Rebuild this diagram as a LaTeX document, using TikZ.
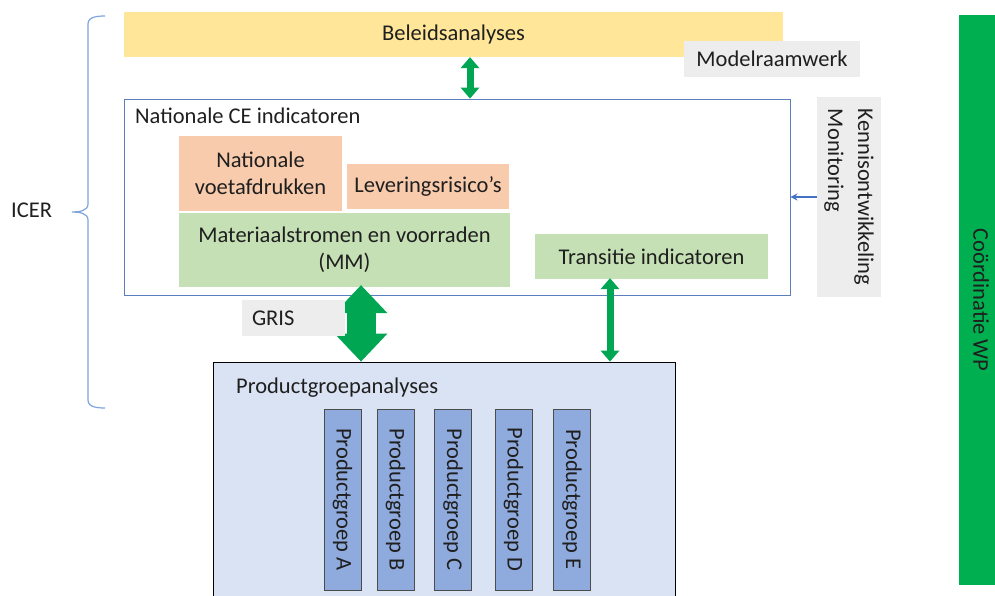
\documentclass[tikz,border=0pt]{standalone}
\usepackage{fontspec}
\setmainfont{Carlito}
\usetikzlibrary{arrows.meta,positioning}

\definecolor{beleidgeel}{HTML}{FFE699}
\definecolor{kaderblauw}{HTML}{5B7EBD}
\definecolor{zalm}{HTML}{F8CBAD}
\definecolor{lichtgroen}{HTML}{C5E0B4}
\definecolor{lichtgrijs}{HTML}{EDEDED}
\definecolor{pgablauw}{HTML}{DAE3F3}
\definecolor{pgblauw}{HTML}{8FAADC}
\definecolor{wpgroen}{HTML}{00B050}
\definecolor{pijlgroen}{HTML}{00A651}
\definecolor{accolade}{HTML}{7FA3DB}
\definecolor{pijlblauw}{HTML}{4472C4}

\begin{document}
\begin{tikzpicture}[
    x=1pt, y=-1pt,
    every node/.style={font=\fontsize{22.5}{27}\selectfont, text=black!88},
    blok/.style={inner sep=0pt, align=center},
    pgblok/.style={blok, draw=black!70, line width=0.9pt, fill=pgblauw,
      rotate=-90, minimum width=181, minimum height=37},
    titel/.style={anchor=base west, inner sep=0pt},
    groenpijl/.style={draw=pijlgroen, line width=7pt,
      arrows={Triangle[width=19pt,length=11pt,line width=0pt]-Triangle[width=19pt,length=11pt,line width=0pt]}},
    dikkepijl/.style={draw=pijlgroen, line width=29pt,
      arrows={Triangle[width=53pt,length=28pt,line width=0pt]-Triangle[width=53pt,length=28pt,line width=0pt]}},
    blauwpijl/.style={draw=pijlblauw, line width=1.8pt, -{Stealth[length=7pt,width=7pt]}}
  ]
    \useasboundingbox (0,0) rectangle (995,596);

    % bovenste laag
    \node[blok, fill=beleidgeel, minimum width=659, minimum height=45] (beleid) at (453.5,34.5) {Beleidsanalyses};
    \node[blok, fill=lichtgrijs, minimum width=176, minimum height=36] (model) at (772,59) {Modelraamwerk};

    % nationale indicatoren
    \node[blok, draw=kaderblauw, line width=0.9pt, minimum width=666, minimum height=196] (nat) at (457,197) {};
    \node[titel] (nattitel) at (135,124) {Nationale CE indicatoren};
    \node[blok, fill=zalm, minimum width=163, minimum height=75] (voet) at (260.5,173.5) {Nationale\\voetafdrukken};
    \node[blok, fill=zalm, minimum width=162, minimum height=45] (lever) at (428,186.5) {Leveringsrisico’s};
    \node[blok, fill=lichtgroen, minimum width=331, minimum height=74] (mm) at (344.5,250) {Materiaalstromen en voorraden\\(MM)};
    \node[blok, fill=lichtgroen, minimum width=233, minimum height=45] (trans) at (651.5,256.5) {Transitie indicatoren};

    \node[blok, fill=lichtgrijs, rotate=-90, minimum width=200, minimum height=64, align=left,
      font=\fontsize{22.5}{30}\selectfont] (kennis) at (849,197) {Kennisontwikkeling\\Monitoring};
    \node[blok, fill=wpgroen, rotate=-90, minimum width=570, minimum height=44] (coord) at (981,300) {Coördinatie WP};

    % ICER accolade
    \node[titel] (icer) at (11,217) {ICER};
    \draw[accolade, line width=1.2pt] (105,16) to[out=180,in=90] (88,24) -- (88,204)
      to[out=-90,in=0] (72,212) to[out=0,in=90] (88,220) -- (88,400) to[out=-90,in=180] (105,408);

    % productgroepen
    \node[blok, draw=black, line width=0.9pt, fill=pgablauw, minimum width=462, minimum height=248] (pga) at (444,486) {};
    \node[titel] (pgatitel) at (236,393) {Productgroepanalyses};
    \foreach \px/\pl in {342.5/A,395.5/B,453/C,513.5/D,572/E}
      \node[pgblok] (pg\pl) at (\px,499.5) {Productgroep \pl};

    % verbindingen
    \coordinate (p1) at (470,0);
    \coordinate (p2) at (361,0);
    \coordinate (p3) at (610,0);
    \draw[groenpijl] (beleid.south -| p1) -- (nat.north -| p1);
    \draw[dikkepijl] ([yshift=2pt]mm.south -| p2) -- (pga.north -| p2);
    \draw[groenpijl] ([yshift=1pt]trans.south -| p3) -- (pga.north -| p3);
    \draw[blauwpijl] (kennis.south) -- (nat.east);

    \node[blok, fill=lichtgrijs, minimum width=103, minimum height=36, text width=83, align=left] (gris) at (293.5,318) {GRIS};
  \end{tikzpicture}
\end{document}
